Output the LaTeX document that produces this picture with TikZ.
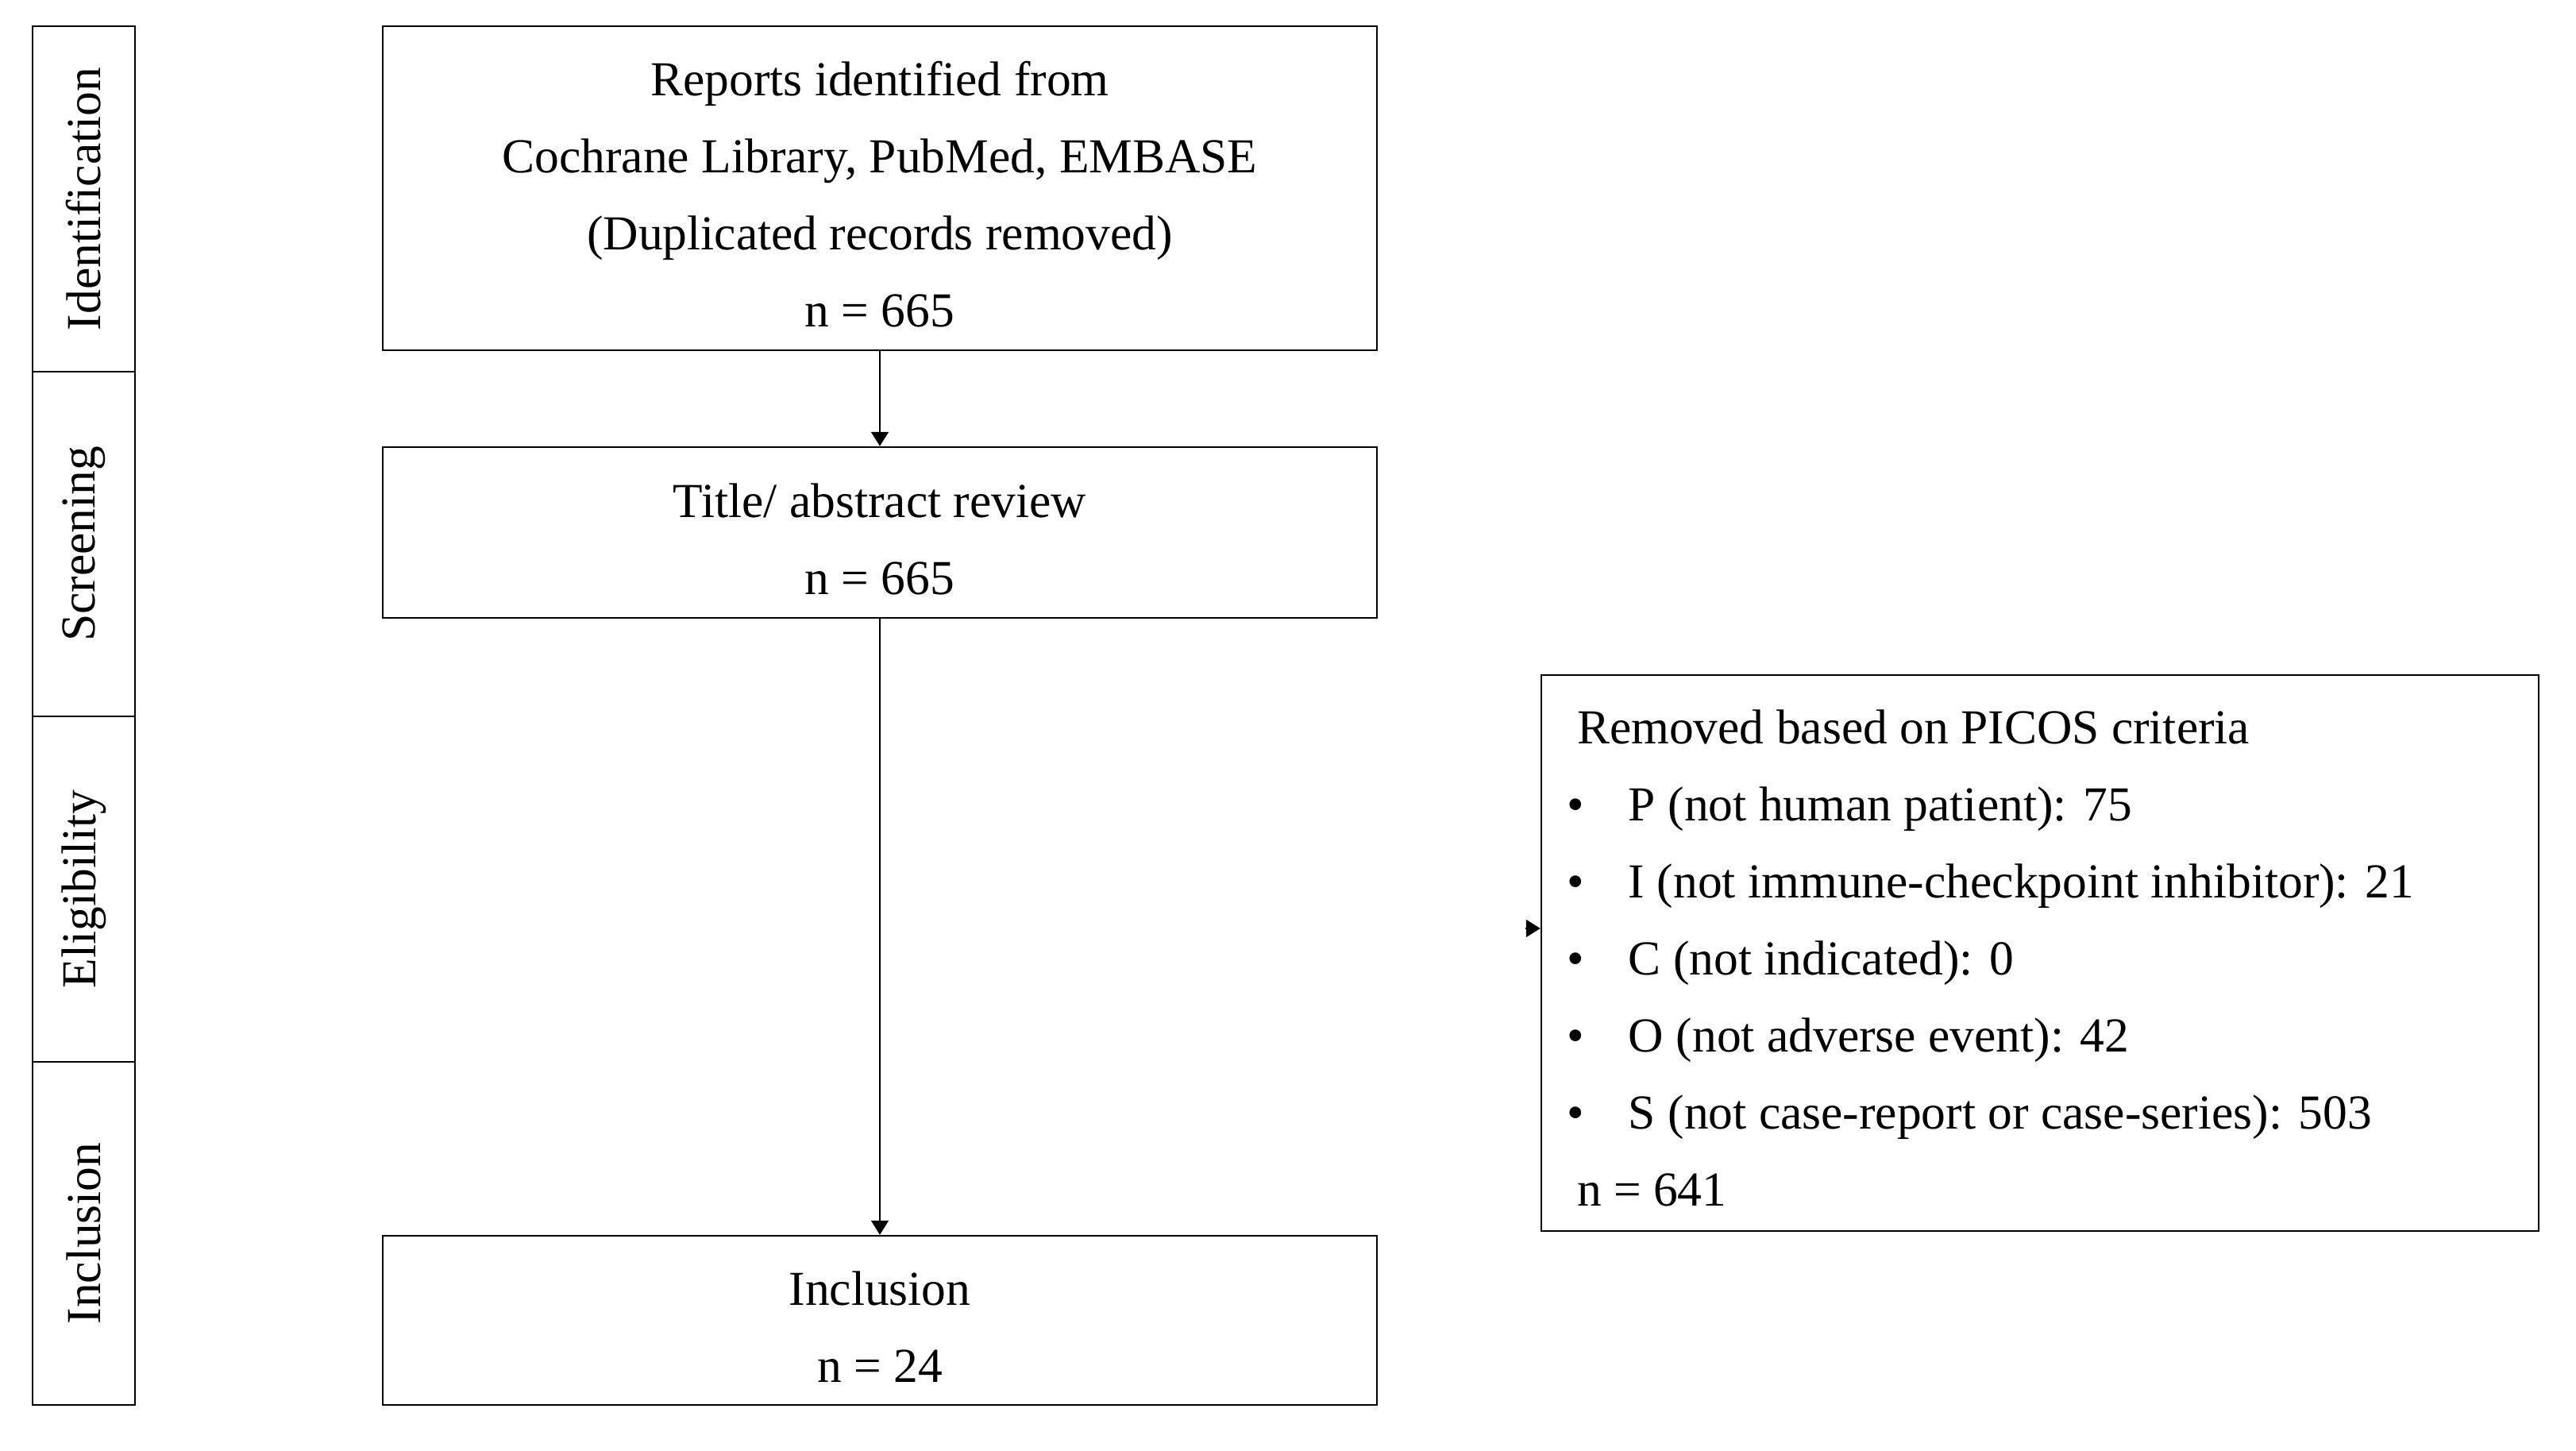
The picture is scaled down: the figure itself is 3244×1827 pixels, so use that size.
\documentclass[tikz,border=0pt]{standalone}
\usepackage{fontspec}
\setmainfont{Liberation Serif}
\usetikzlibrary{arrows.meta}
\begin{document}
\begin{tikzpicture}[x=0.2pt,y=-0.2pt,
  txt/.style={font=\fontsize{12.3}{19.4}\selectfont},
  box/.style={draw,line width=0.5pt,inner sep=0pt,minimum width=250.4pt},
  boxtext/.style={txt,align=center,inner sep=0pt,yshift=-1.6pt},
  sidebox/.style={draw,line width=0.5pt,inner sep=0pt,txt,rotate=90,minimum height=25.8pt},
  arr/.style={line width=0.4pt,-{Triangle[width=4.4pt,length=3.6pt]}}]
\useasboundingbox (0,0) rectangle (3244,1827);
% side column
\node[sidebox,minimum width=87pt] (s1) at (105.5,250.5) {Identification};
\node[sidebox,minimum width=86.8pt] (s2) at (105.5,685) {Screening};
\node[sidebox,minimum width=87pt] (s3) at (105.5,1119.5) {Eligibility};
\node[sidebox,minimum width=86.4pt] (s4) at (105.5,1553) {Inclusion};
% main boxes
\node[box,minimum height=81.6pt] (b1) at (1108,237) {};
\node[boxtext] (b1t) at (b1.center)
  {Reports identified from\\Cochrane Library, PubMed, EMBASE\\(Duplicated records removed)\\n = 665};
\node[box,minimum height=43pt] (b2) at (1108,670.5) {};
\node[boxtext] (b2t) at (b2.center) {Title/ abstract review\\n = 665};
\node[box,minimum height=42.6pt] (b3) at (1108,1662.5) {};
\node[boxtext] (b3t) at (b3.center) {Inclusion\\n = 24};
\node[draw,line width=0.5pt,inner sep=0pt,minimum width=251.2pt,minimum height=140pt] (rm) at (2569,1200) {};
\node[txt,align=left,anchor=west,inner sep=0pt] (rmt) at (1980,1206)
  {\hspace{1pt}Removed based on PICOS criteria\\
   \hspace{-1.6pt}\makebox[15.6pt][l]{•}P (not human patient): 75\\
   \hspace{-1.6pt}\makebox[15.6pt][l]{•}I (not immune-checkpoint inhibitor): 21\\
   \hspace{-1.6pt}\makebox[15.6pt][l]{•}C (not indicated): 0\\
   \hspace{-1.6pt}\makebox[15.6pt][l]{•}O (not adverse event): 42\\
   \hspace{-1.6pt}\makebox[15.6pt][l]{•}S (not case-report or case-series): 503\\
   \hspace{1pt}n = 641};
% connectors
\draw[arr] (b1.south) -- (b2.north);
\draw[arr] (b2.south) -- (b3.north);
\coordinate (stub) at (1921,1169);
\draw[arr] (stub) -- (stub -| rm.west);
\end{tikzpicture}
\end{document}
